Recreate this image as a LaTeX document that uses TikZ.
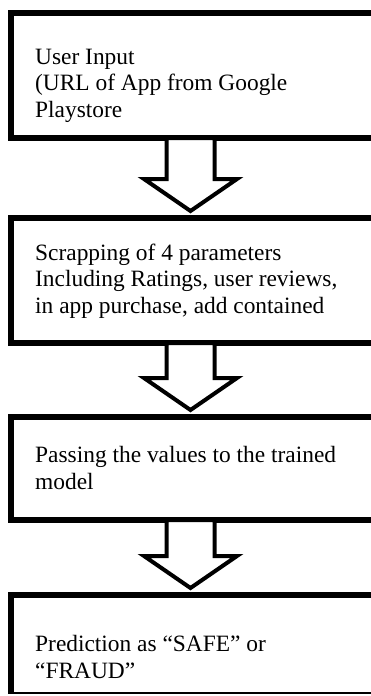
\documentclass[tikz,border=0pt]{standalone}
\usepackage{fontspec}
\setmainfont{Liberation Serif}
\usetikzlibrary{calc}
\newcommand{\blockarrow}[2]{%
  \draw[arrowline]
    ($(ax |- #1.south)+(-24,0)$) --
    ($(ax |- #2.north)+(-24,-39)$) --
    ($(ax |- #2.north)+(-46.5,-39)$) --
    ($(ax |- #2.north)+(0,-7)$) --
    ($(ax |- #2.north)+(46.5,-39)$) --
    ($(ax |- #2.north)+(24,-39)$) --
    ($(ax |- #1.south)+(24,0)$) -- cycle;}
\begin{document}
\begin{tikzpicture}[x=1pt,y=-1pt,
  box/.style={draw=black, line width=5.5pt, fill=white, outer sep=0pt, inner sep=0pt, minimum width=389pt},
  txt/.style={anchor=base west, inner sep=0pt, align=left, font=\fontsize{23.4}{26.5}\selectfont},
  arrowline/.style={draw=black, line width=4pt, fill=white, line join=miter}]
\useasboundingbox (0,0) rectangle (371,696);
\fill[white] (0,0) rectangle (371,696);
\clip (0,0) rectangle (371,693.5);
\coordinate (ax) at (190.5,0);
\node[box, minimum height=125pt] (b1) at (205.5,75.5) {};
\node[box, minimum height=125pt] (b2) at (205.5,280.5) {};
\node[box, minimum height=103pt] (b3) at (205.5,468.5) {};
\node[box, minimum height=100pt] (b4) at (205.5,645) {};
\node[txt] (t1) at (35,117) {User Input\\(URL of App from Google\\Playstore};
\node[txt] (t2) at (35,313) {Scrapping of 4 parameters\\Including Ratings, user reviews,\\in app purchase, add contained};
\node[txt] (t3) at (35,489) {Passing the values to the trained\\model};
\node[txt] (t4) at (35,678) {Prediction as “SAFE” or\\“FRAUD”};
\blockarrow{b1}{b2}
\blockarrow{b2}{b3}
\blockarrow{b3}{b4}
\end{tikzpicture}
\end{document}
